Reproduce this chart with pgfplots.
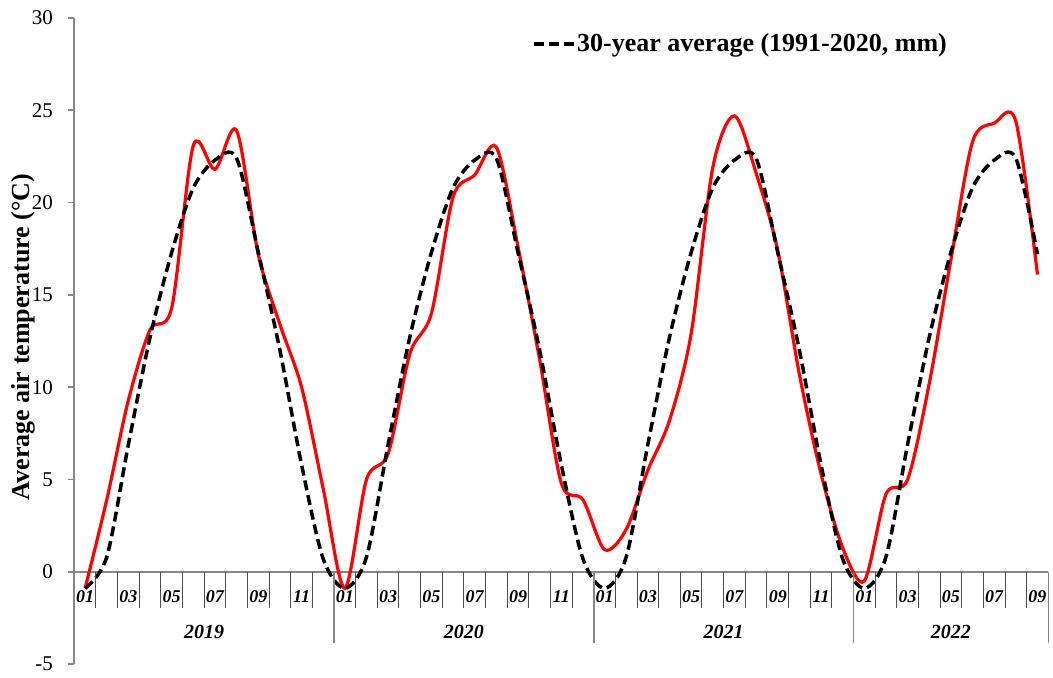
\documentclass[border=0pt]{standalone}
\usepackage{pgfplots}
\pgfplotsset{compat=1.18}
\usepackage{pgfplotstable}
\usepackage{fontspec}
\setmainfont{Liberation Serif}

\definecolor{axgray}{HTML}{868686}
\definecolor{tred}{HTML}{FF0000}

% month index (0 = Jan 2019), monthly mean, 30-year average
\pgfplotstableread{
x  t     avg
0  -0.9  -0.9
1   3.9   0.8
2   9.3   6.9
3  13.1  12.7
4  14.3  17.3
5  23.1  20.8
6  21.8  22.3
7  23.9  22.4
8  17.2  17.3
9  13.4  12.0
10 10.0   5.8
11  4.5   0.7
12 -0.9  -0.9
13  5.0   0.8
14  6.4   6.9
15 11.8  12.7
16 14.0  17.3
17 20.3  20.8
18 21.5  22.3
19 23.0  22.4
20 17.6  17.3
21 11.5  12.0
22  4.8   5.8
23  3.9   0.7
24  1.2  -0.9
25  2.3   0.8
26  5.5   6.9
27  8.2  12.7
28 12.9  17.3
29 21.9  20.8
30 24.7  22.3
31 21.6  22.4
32 17.4  17.3
33 10.7  12.0
34  5.3   5.8
35  1.3   0.7
36 -0.5  -0.9
37  4.2   0.8
38  5.0   6.9
39 10.2  12.7
40 16.9  17.3
41 23.3  20.8
42 24.3  22.3
43 24.4  22.4
44 16.1  17.2
}\tempdata

\newcommand{\mlab}[2]{\node[font=\bfseries\itshape\fontsize{9}{10}\selectfont, inner sep=0pt] at (axis cs:#1,-1.355) {#2};}

\begin{document}
\begin{tikzpicture}
\path[use as bounding box] (-37.15pt,-6.5pt) rectangle (489.35pt,332pt);
\begin{axis}[
  scale only axis, width=487pt, height=323pt,
  xmin=-0.5, xmax=44.5, ymin=-5, ymax=30,
  axis x line=middle, axis y line=left,
  axis line style={-, draw=axgray, line width=0.8pt},
  xtick=\empty, ytick={-5,0,...,30},
  ytick align=outside, major tick length=3.3pt,
  tick style={axgray, line width=0.8pt},
  /pgf/number format/assume math mode=true,
  yticklabel style={font=\fontsize{10.5}{12}\selectfont, inner sep=0pt, xshift=-7.2pt},
  ylabel={Average air temperature (°C)},
  every axis y label/.style={at={(rel axis cs:0,0.5)}, xshift=-25.6pt, yshift=2pt, rotate=90, anchor=center, font=\bfseries\fontsize{13}{15}\selectfont},
  legend style={at={(0.47,0.96)}, anchor=west, draw=none, fill=none, inner sep=0pt,
    font=\bfseries\fontsize{13}{15}\selectfont, nodes={inner sep=0.6pt}},
  legend image code/.code={\draw[#1] (0pt,0pt) -- (20pt,0pt);},
  clip=false,
]
\addplot[tred, line width=1.6pt, smooth, forget plot] table[x=x, y=t] {\tempdata};
\addplot[black, line width=1.75pt, dash pattern=on 5pt off 2.5pt, smooth] table[x=x, y=avg] {\tempdata};
\addlegendentry{30-year average (1991-2020, mm)}

% month separators
\pgfplotsinvokeforeach{0.5,1.5,...,10.5,12.5,13.5,...,22.5,24.5,25.5,...,34.5,36.5,37.5,...,43.5}{
  \draw[black!70, line width=0.5pt] (axis cs:#1,0) -- (axis cs:#1,-1.98);
}
% year separators
\pgfplotsinvokeforeach{11.5,23.5,35.5,44.5}{
  \draw[axgray, line width=0.8pt] (axis cs:#1,0) -- (axis cs:#1,-3.88);
}
% month labels
\mlab{0}{01}\mlab{2}{03}\mlab{4}{05}\mlab{6}{07}\mlab{8}{09}\mlab{10}{11}
\mlab{12}{01}\mlab{14}{03}\mlab{16}{05}\mlab{18}{07}\mlab{20}{09}\mlab{22}{11}
\mlab{24}{01}\mlab{26}{03}\mlab{28}{05}\mlab{30}{07}\mlab{32}{09}\mlab{34}{11}
\mlab{36}{01}\mlab{38}{03}\mlab{40}{05}\mlab{42}{07}\mlab{44}{09}
% year labels
\node[font=\bfseries\itshape\fontsize{10}{12}\selectfont] at (axis cs:5.5,-3.27) {2019};
\node[font=\bfseries\itshape\fontsize{10}{12}\selectfont] at (axis cs:17.5,-3.27) {2020};
\node[font=\bfseries\itshape\fontsize{10}{12}\selectfont] at (axis cs:29.5,-3.27) {2021};
\node[font=\bfseries\itshape\fontsize{10}{12}\selectfont] at (axis cs:40,-3.27) {2022};
\end{axis}
\end{tikzpicture}
\end{document}
